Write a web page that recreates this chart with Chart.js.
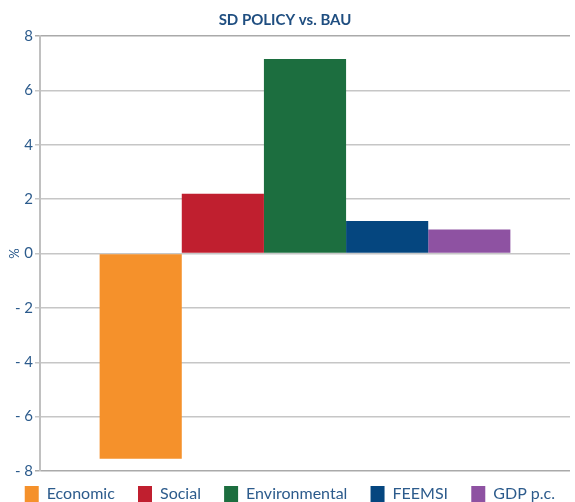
<!DOCTYPE html>
<html>
<head>
<meta charset="utf-8">
<script src="https://cdn.jsdelivr.net/npm/chart.js@4.4.1/dist/chart.umd.min.js"></script>
<style>
  html, body { margin: 0; padding: 0; background: #fff; }
  #wrap { width: 575px; height: 502px; }
</style>
</head>
<body>
<div id="wrap"><canvas id="chart"></canvas></div>
<script>
// datos
const chartTitle = 'SD POLICY vs. BAU';
const categories = [''];
const seriesNames = ['Economic', 'Social', 'Environmental', 'FEEMSI', 'GDP p.c.'];
const seriesValues = [-7.55, 2.2, 7.15, 1.2, 0.88];
const seriesColors = ['#f5912b', '#c01f2f', '#1c6e3f', '#05467f', '#8e52a2'];
const yTicks = [-8, -6, -4, -2, 0, 2, 4, 6, 8];
const yTitle = '%';

const textColor = '#2c5b8c';
const fontFamily = 'Lato, "Open Sans", sans-serif';

const datasets = seriesNames.map((name, i) => ({
    label: name,
    data: [seriesValues[i]],
    backgroundColor: seriesColors[i],
    borderWidth: 0,
    barPercentage: 1,
    categoryPercentage: 0.775
}));

const defaultLabels = Chart.defaults.plugins.legend.labels.generateLabels;

new Chart(document.getElementById('chart'), {
    type: 'bar',
    data: { labels: categories, datasets },
    options: {
        responsive: true,
        maintainAspectRatio: false,
        animation: false,
        layout: { padding: { left: 0, right: 5, top: 0, bottom: -10 } },
        plugins: {
            title: {
                display: true,
                text: chartTitle,
                color: '#1f4e80',
                font: { family: fontFamily, size: 15, weight: 'bold' },
                padding: { top: 11.5, bottom: 6.5 }
            },
            legend: {
                position: 'bottom',
                align: 'end',
                labels: {
                    color: textColor,
                    font: { family: fontFamily, size: 16 },
                    boxWidth: 14,
                    boxHeight: 16,
                    padding: 15,
                    // espacio extra entre entradas (menos la última)
                    generateLabels: chart => defaultLabels(chart).map((l, i, arr) => ({ ...l, text: i < arr.length - 1 ? l.text + '  ' : l.text }))
                }
            },
            tooltip: { enabled: false }
        },
        scales: {
            x: { display: false },
            y: {
                min: yTicks[0],
                max: yTicks[yTicks.length - 1],
                afterBuildTicks: scale => { scale.ticks = yTicks.map(v => ({ value: v })); },
                afterFit: scale => { scale.width = 40; },
                ticks: {
                    color: textColor,
                    font: { family: fontFamily, size: 15 },
                    padding: 2,
                    callback: v => v < 0 ? '- ' + Math.abs(v) : String(v)
                },
                grid: {
                    color: ctx => (ctx.tick && (ctx.tick.value === yTicks[0] || ctx.tick.value === yTicks[yTicks.length - 1])) ? '#aaaaaa' : '#c6c6c6',
                    lineWidth: 1.5,
                    tickLength: 5
                },
                border: { color: '#c0c0c0', width: 2 },
                title: {
                    display: true,
                    text: yTitle,
                    color: textColor,
                    font: { family: fontFamily, size: 13 },
                    padding: { top: 7, bottom: 0 }
                }
            }
        }
    }
});
</script>
</body>
</html>
